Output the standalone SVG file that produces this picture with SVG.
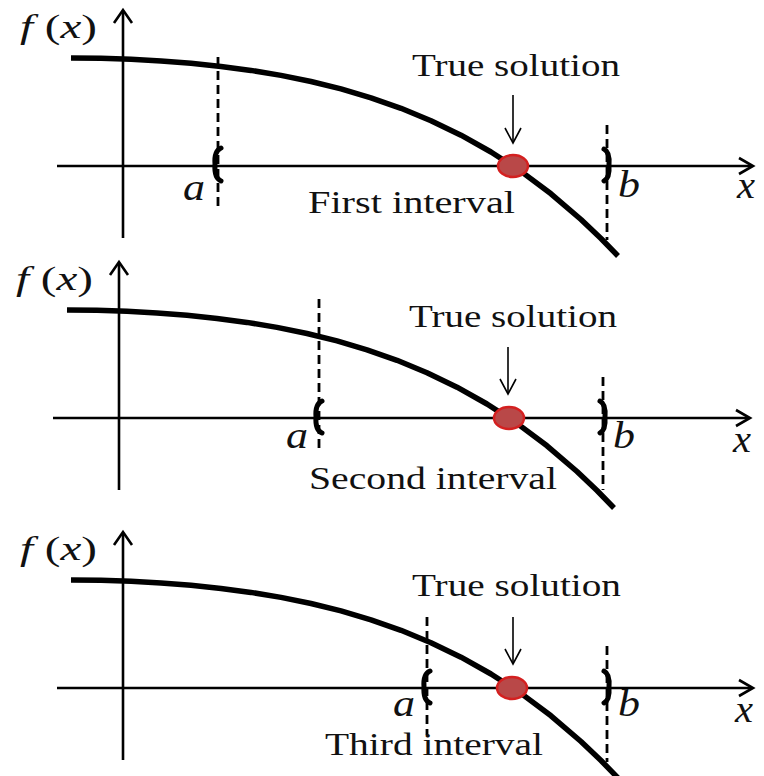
<svg xmlns="http://www.w3.org/2000/svg" xmlns:xlink="http://www.w3.org/1999/xlink" width="764" height="776" viewBox="0 0 764 776">
<style>
.ax{stroke:#000;stroke-width:2.6;fill:none}
.ah{stroke:#000;stroke-width:2.6;fill:none;stroke-linejoin:miter}
.crv{stroke:#000;stroke-width:5.5;fill:none;stroke-linejoin:round}
.dash{stroke:#000;stroke-width:2.8;stroke-dasharray:9 5;fill:none}
.br{stroke:#000;stroke-width:5;fill:none;stroke-linecap:round}
.sa{stroke:#000;stroke-width:1.6;fill:none}
.root{fill:#b94848;stroke:#d42020;stroke-width:2.5}
.t{font-family:"Liberation Serif","Times New Roman",serif;font-size:31px;fill:#111}
.v{font-family:"Liberation Serif","Times New Roman",serif;font-style:italic;font-size:38px;fill:#111}
.fx{font-family:"Liberation Serif","Times New Roman",serif;font-size:33px;fill:#111}
.it{font-style:italic}
</style>
<defs>
<path id="curve" class="crv" d="M71,58 L101,58.3 L131,59.3 L161,60.9 L191,63.2 L221,66.4 L251,70.4 L281,75.4 L311,81.5 L341,88.9 L371,97.8 L401,108.3 L431,120.7 L461,135.2 L491,152 L521,171.4 L551,193.8 L581,219.5 L601,238.5 L618,256"/>
</defs>

<g id="panel1">
  <g id="axes1">
    <line class="ax" x1="123" y1="11" x2="123" y2="238"/>
    <polyline class="ah" points="114,23 123,10 132,23"/>
    <line class="ax" x1="57" y1="166" x2="752" y2="166"/>
    <polyline class="ah" points="739,158 753,166 739,174"/>
  </g>
  <text class="fx" x="20" y="38" textLength="77" lengthAdjust="spacingAndGlyphs"><tspan class="it">f</tspan> (<tspan class="it">x</tspan>)</text>
  <use xlink:href="#curve" href="#curve"/>
  <g id="a1">
    <line class="dash" x1="218" y1="57" x2="218" y2="208"/>
    <path class="br" d="M221,148 Q214,151 215,164 Q214,178 221,181"/>
    <text class="v" x="183" y="200" textLength="22" lengthAdjust="spacingAndGlyphs">a</text>
  </g>
  <g id="b1">
    <line class="dash" x1="607" y1="125" x2="607" y2="240"/>
    <path class="br" d="M604,149 Q610,152 609,165 Q610,178 604,181"/>
    <text class="v" x="618" y="197" textLength="22" lengthAdjust="spacingAndGlyphs">b</text>
  </g>
  <text class="v" x="737" y="198" textLength="18" lengthAdjust="spacingAndGlyphs">x</text>
  <g id="sol1">
    <text class="t" x="412" y="76" textLength="208" lengthAdjust="spacingAndGlyphs">True solution</text>
    <line class="sa" x1="513" y1="95" x2="513" y2="142"/>
    <polyline class="sa" points="505,128 513,143 521,128"/>
    <ellipse class="root" cx="513" cy="166" rx="15" ry="11"/>
  </g>
  <text class="t" x="308" y="213" textLength="207" lengthAdjust="spacingAndGlyphs">First interval</text>
</g>

<g id="panel2">
  <g id="axes2">
    <line class="ax" x1="119" y1="263" x2="119" y2="490"/>
    <polyline class="ah" points="110,275 119,262 128,275"/>
    <line class="ax" x1="53" y1="418" x2="749" y2="418"/>
    <polyline class="ah" points="736,410 750,418 736,426"/>
  </g>
  <text class="fx" x="16" y="290" textLength="77" lengthAdjust="spacingAndGlyphs"><tspan class="it">f</tspan> (<tspan class="it">x</tspan>)</text>
  <use xlink:href="#curve" href="#curve" transform="translate(-4,252)"/>
  <g id="a2">
    <line class="dash" x1="319" y1="299" x2="319" y2="450"/>
    <path class="br" d="M322,401 Q315,404 316,417 Q315,430 322,433"/>
    <text class="v" x="286" y="448" textLength="22" lengthAdjust="spacingAndGlyphs">a</text>
  </g>
  <g id="b2">
    <line class="dash" x1="603" y1="377" x2="603" y2="490"/>
    <path class="br" d="M600,401 Q606,404 605,417 Q606,430 600,433"/>
    <text class="v" x="613" y="448" textLength="22" lengthAdjust="spacingAndGlyphs">b</text>
  </g>
  <text class="v" x="733" y="452" textLength="18" lengthAdjust="spacingAndGlyphs">x</text>
  <g id="sol2">
    <text class="t" x="409" y="327" textLength="208" lengthAdjust="spacingAndGlyphs">True solution</text>
    <line class="sa" x1="508" y1="347" x2="508" y2="393"/>
    <polyline class="sa" points="500,379 508,394 516,379"/>
    <ellipse class="root" cx="509" cy="418" rx="15" ry="11"/>
  </g>
  <text class="t" x="309" y="489" textLength="248" lengthAdjust="spacingAndGlyphs">Second interval</text>
</g>

<g id="panel3">
  <g id="axes3">
    <line class="ax" x1="123" y1="533" x2="123" y2="760"/>
    <polyline class="ah" points="114,545 123,532 132,545"/>
    <line class="ax" x1="57" y1="688" x2="752" y2="688"/>
    <polyline class="ah" points="739,680 753,688 739,696"/>
  </g>
  <text class="fx" x="20" y="560" textLength="77" lengthAdjust="spacingAndGlyphs"><tspan class="it">f</tspan> (<tspan class="it">x</tspan>)</text>
  <use xlink:href="#curve" href="#curve" transform="translate(0,522)"/>
  <g id="a3">
    <line class="dash" x1="427" y1="617" x2="427" y2="735"/>
    <path class="br" d="M430,671 Q423,674 424,687 Q423,700 430,703"/>
    <text class="v" x="393" y="716" textLength="22" lengthAdjust="spacingAndGlyphs">a</text>
  </g>
  <g id="b3">
    <line class="dash" x1="607" y1="646" x2="607" y2="762"/>
    <path class="br" d="M604,671 Q610,674 609,687 Q610,700 604,703"/>
    <text class="v" x="618" y="716" textLength="22" lengthAdjust="spacingAndGlyphs">b</text>
  </g>
  <text class="v" x="735" y="722" textLength="18" lengthAdjust="spacingAndGlyphs">x</text>
  <g id="sol3">
    <text class="t" x="412" y="596" textLength="209" lengthAdjust="spacingAndGlyphs">True solution</text>
    <line class="sa" x1="513" y1="617" x2="513" y2="663"/>
    <polyline class="sa" points="505,649 513,664 521,649"/>
    <ellipse class="root" cx="512" cy="688" rx="15" ry="11"/>
  </g>
  <text class="t" x="325" y="755" textLength="218" lengthAdjust="spacingAndGlyphs">Third interval</text>
</g>
</svg>
